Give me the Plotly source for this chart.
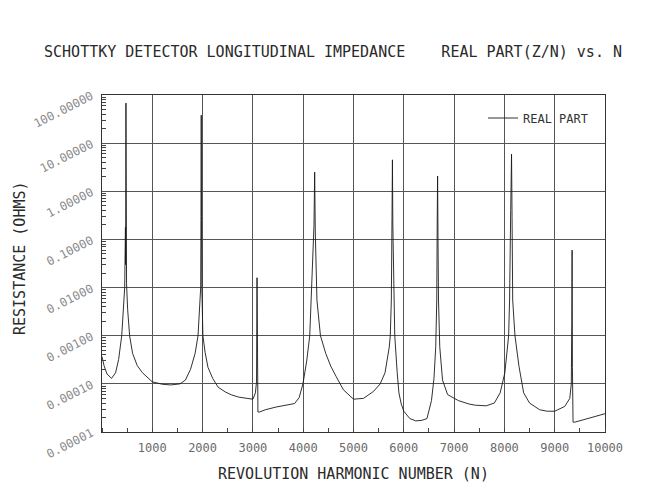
import plotly.graph_objects as go

# ---- data ----
harmonic_n = [
    0, 40, 100, 190, 270, 330, 392, 430, 451, 466, 470, 476, 482, 488, 510, 549, 608, 700, 804,
    1000, 1200, 1368, 1550, 1658, 1760, 1851, 1909, 1945, 1962, 1968, 1973, 1978, 1985, 2006,
    2050, 2107, 2200, 2310, 2450, 2574, 2720, 2858, 3000, 3050, 3072, 3082, 3088, 3100, 3130,
    3250, 3460, 3700, 3830, 3920, 3995, 4070, 4130, 4167, 4215, 4228, 4240, 4273, 4343, 4448,
    4550, 4658, 4800, 5000, 5200, 5400, 5530, 5627, 5711, 5731, 5752, 5766, 5774, 5782, 5799,
    5820, 5869, 5903, 5950, 6000, 6120, 6240, 6360, 6460, 6550, 6600, 6635, 6655, 6665, 6672,
    6680, 6690, 6715, 6770, 6870, 7083, 7300, 7430, 7640, 7800, 7916, 8009, 8084, 8103, 8125,
    8142, 8152, 8165, 8210, 8290, 8383, 8500, 8700, 8850, 9000, 9200, 9300, 9330, 9340, 9346,
    9352, 9365, 9400, 9496, 9700, 9850, 10000,
]
resistance_ohms = [
    3.7e-4, 2.4e-4, 1.6e-4, 1.3e-4, 1.7e-4, 3.2e-4, 1.0e-3, 3.5e-3, 1.0e-2, 0.18, 0.03, 68, 0.15, 0.012, 3.5e-3, 1.0e-3, 4.3e-4, 2.4e-4, 1.7e-4,
    1.1e-4, 9.8e-5, 9.5e-5, 1.0e-4, 1.2e-4, 2.0e-4, 4.3e-4, 1.0e-3, 3.5e-3, 1.0e-2, 0.3, 38, 0.25, 1.0e-2, 1.0e-3,
    4.5e-4, 2.2e-4, 1.3e-4, 8.5e-5, 6.8e-5, 5.9e-5, 5.3e-5, 5.1e-5, 4.8e-5, 6.5e-5, 1.1e-4, 0.016, 1.5e-4, 2.6e-5, 2.6e-5,
    2.9e-5, 3.3e-5, 3.6e-5, 3.9e-5, 5.2e-5, 1.0e-4, 3.0e-4, 1.0e-3, 1.0e-2, 0.2, 2.5, 0.15, 5.5e-3, 1.0e-3, 4.3e-4,
    2.3e-4, 1.4e-4, 7.5e-5, 4.8e-5, 5.0e-5, 7.0e-5, 1.0e-4, 1.7e-4, 5.8e-4, 1.0e-3, 5.5e-3, 0.3, 4.5, 0.2, 5.5e-3,
    1.0e-3, 1.7e-4, 6.5e-5, 3.8e-5, 2.7e-5, 1.9e-5, 1.7e-5, 1.75e-5, 1.9e-5, 4.5e-5, 1.3e-4, 5.9e-4, 5.5e-3, 0.3, 2.07,
    0.1, 5.5e-3, 5.9e-4, 1.2e-4, 6.0e-5, 4.5e-5, 3.8e-5, 3.6e-5, 3.5e-5, 4.0e-5, 6.5e-5, 1.7e-4, 1.0e-3, 5.5e-3, 0.4,
    5.9, 0.3, 5.5e-3, 1.0e-3, 2.3e-4, 6.5e-5, 4.0e-5, 2.9e-5, 2.7e-5, 2.7e-5, 3.4e-5, 5.0e-5, 1.0e-4, 2.0e-3, 0.06,
    2.2e-4, 1.6e-5, 1.6e-5, 1.7e-5, 2.0e-5, 2.2e-5, 2.4e-5,
]
series_name = "REAL PART"

y_tick_values = [1e-5, 1e-4, 1e-3, 1e-2, 1e-1, 1, 10, 100]
y_tick_labels = ["0.00001", "0.00010", "0.00100", "0.01000", "0.10000",
                 "1.00000", "10.00000", "100.00000"]
x_tick_values = [1000, 2000, 3000, 4000, 5000, 6000, 7000, 8000, 9000, 10000]
x_tick_labels = ["1000", "2000", "3000", "4000", "5000", "6000", "7000", "8000", "9000", "10000"]

title_text = "SCHOTTKY DETECTOR LONGITUDINAL IMPEDANCE\u00a0\u00a0\u00a0\u00a0REAL PART(Z/N) vs. N"
x_title = "REVOLUTION HARMONIC NUMBER (N)"
y_title = "RESISTANCE (OHMS)"

MONO = "DejaVu Sans Mono"
W, H = 652, 501
L, R, T, B = 102, 47, 95, 69
pw, ph = W - L - R, H - T - B

y_minor = [m * 10 ** e for e in range(-5, 2) for m in range(2, 10)]

fig = go.Figure()
fig.add_trace(go.Scatter(
    x=harmonic_n, y=resistance_ohms, mode="lines", name=series_name,
    line=dict(color="#1a1a1a", width=0.9),
))

fig.update_layout(
    width=W, height=H,
    margin=dict(l=L, r=R, t=T, b=B, pad=0),
    paper_bgcolor="white", plot_bgcolor="white",
    font=dict(family=MONO, color="#222222", size=12),
    title=dict(text=title_text, x=333 / W, y=1 - 52 / H, xanchor="center", yanchor="middle",
               font=dict(family=MONO, size=15, color="#2a2a2a")),
    showlegend=True,
    legend=dict(x=(483 - L) / pw, y=(H - B - 118) / ph, xanchor="left", yanchor="middle",
                bgcolor="rgba(0,0,0,0)", borderwidth=0, itemwidth=30,
                font=dict(family=MONO, size=12, color="#333333")),
    annotations=[
        dict(text=x_title, xref="paper", yref="paper", x=0.5, y=-(474 - (H - B)) / ph,
             xanchor="center", yanchor="middle", showarrow=False,
             font=dict(family=MONO, size=15, color="#2a2a2a")),
        dict(text=y_title, xref="paper", yref="paper", x=(20 - L) / pw, y=((H - B) - 258) / ph,
             xanchor="center", yanchor="middle", showarrow=False, textangle=-90,
             font=dict(family=MONO, size=15, color="#2a2a2a")),
    ],
)

fig.update_xaxes(
    range=[0, 10000], tickmode="array", tickvals=x_tick_values, ticktext=x_tick_labels,
    showgrid=True, gridcolor="#555555", gridwidth=1,
    showline=True, mirror=True, linecolor="#333333", linewidth=1,
    ticks="", ticklabelstandoff=5, tickfont=dict(family=MONO, size=12, color="#6a6a6a"),
    minor=dict(dtick=500, tick0=0, ticks="inside", ticklen=4, tickcolor="#444444", showgrid=False),
    zeroline=False,
)
fig.update_yaxes(
    type="log", range=[-5, 2], tickmode="array", tickvals=y_tick_values, ticktext=y_tick_labels,
    showgrid=True, gridcolor="#555555", gridwidth=1,
    showline=True, mirror=True, linecolor="#333333", linewidth=1,
    ticks="", tickangle=-27, ticklabelstandoff=7,
    tickfont=dict(family=MONO, size=12, color="#8a8a8a"),
    minor=dict(tickmode="array", tickvals=y_minor, ticks="inside", ticklen=4,
               tickcolor="#444444", showgrid=False),
    zeroline=False,
)

fig.write_html("out.html", config={"displayModeBar": False},
               post_script="document.body.style.margin='0';")
